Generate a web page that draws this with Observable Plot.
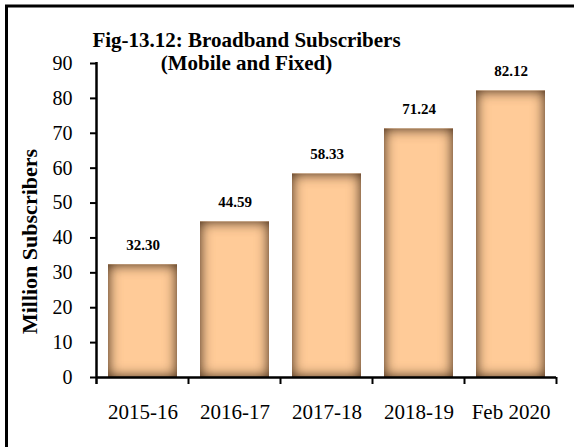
<!DOCTYPE html>
<html>
<head>
<meta charset="utf-8">
<script src="https://cdn.jsdelivr.net/npm/d3@7"></script>
<script src="https://cdn.jsdelivr.net/npm/@observablehq/plot@0.6"></script>
<style>
  body { margin: 0; background: white; }
  #chart { width: 574px; height: 447px; }
</style>
</head>
<body>
<div id="chart"></div>
<script>
const categories = ["2015-16", "2016-17", "2017-18", "2018-19", "Feb 2020"];
const values = [32.30, 44.59, 58.33, 71.24, 82.12];
const yTicks = [0, 10, 20, 30, 40, 50, 60, 70, 80, 90];
const titleText = "Fig-13.12: Broadband Subscribers\n(Mobile and Fixed)";
const yLabel = "Million Subscribers";

const data = categories.map((c, i) => ({cat: c, val: values[i]}));
const font = "'Liberation Serif', 'Times New Roman', Times, serif";

const plot = Plot.plot({
  width: 574,
  height: 447,
  marginLeft: 96,
  marginRight: 18,
  marginTop: 63,
  marginBottom: 70,
  style: {fontFamily: font, fontSize: "20px", color: "#000", background: "white", overflow: "visible"},
  x: {domain: categories, paddingInner: 0.25, paddingOuter: 0.125, label: null},
  y: {domain: [0, 90], ticks: yTicks, label: null},
  marks: [
    Plot.barY(data, {x: "cat", y: "val", fill: "#FFCB98"}),
    Plot.text(data, {x: "cat", y: "val", text: d => d.val.toFixed(2), dy: -20, lineAnchor: "middle", fontWeight: "bold", fontSize: 15, fill: "#000"}),
    Plot.axisY({ticks: yTicks, tickSize: 6, tickPadding: 18, label: null, fontSize: 20, strokeWidth: 2}),
    Plot.axisX({tickSize: 0, tickPadding: 27, label: null, fontSize: 21}),
    Plot.ruleY([0], {strokeWidth: 2.5}),
    Plot.text([titleText], {frameAnchor: "top", textAnchor: "middle", lineAnchor: "top", dx: -80, dy: -33, fontWeight: "bold", fontSize: 21, lineHeight: 1.1, fill: "#000"}),
    Plot.text([yLabel], {frameAnchor: "left", textAnchor: "middle", lineAnchor: "middle", rotate: -90, dx: -67, dy: 21, fontWeight: "bold", fontSize: 22, fill: "#000"})
  ]
});

const svg = d3.select(plot);
// inner-shadow filter for bars
const defs = svg.insert("defs", ":first-child");
const f = defs.append("filter").attr("id", "innerShade")
  .attr("x", "-50%").attr("y", "-50%").attr("width", "200%").attr("height", "200%");
f.append("feFlood").attr("flood-color", "#5a3b22").attr("result", "c");
f.append("feComposite").attr("in", "c").attr("in2", "SourceAlpha").attr("operator", "out").attr("result", "outside");
f.append("feGaussianBlur").attr("in", "outside").attr("stdDeviation", 6.5).attr("result", "blur");
f.append("feComposite").attr("in", "blur").attr("in2", "SourceAlpha").attr("operator", "in").attr("result", "shadow");
const m = f.append("feMerge");
m.append("feMergeNode").attr("in", "SourceGraphic");
m.append("feMergeNode").attr("in", "shadow");
m.append("feMergeNode").attr("in", "shadow");
svg.selectAll("g[aria-label='bar'] rect").attr("filter", "url(#innerShade)");

// axis lines and boundary ticks derived from scales
const xs = plot.scale("x");
const ys = plot.scale("y");
const y0 = ys.apply(0);
const yTop = ys.apply(90);
const half = (xs.step - xs.bandwidth) / 2;
const left = xs.apply(categories[0]) - half;
const g = svg.append("g").attr("stroke", "#000").attr("fill", "none");
g.append("line").attr("x1", left).attr("x2", left).attr("y1", yTop - 1).attr("y2", y0 + 7).attr("stroke-width", 2.5);
categories.forEach((c, i) => {
  const bx = xs.apply(c) + xs.bandwidth + half;
  g.append("line").attr("x1", bx).attr("x2", bx).attr("y1", y0).attr("y2", y0 + 7).attr("stroke-width", 2);
});
// outer frame (top and left edges visible)
svg.append("path").attr("d", "M6.5,447V6H574").attr("stroke", "#000").attr("stroke-width", 3).attr("fill", "none");

document.getElementById("chart").appendChild(plot);
</script>
</body>
</html>
